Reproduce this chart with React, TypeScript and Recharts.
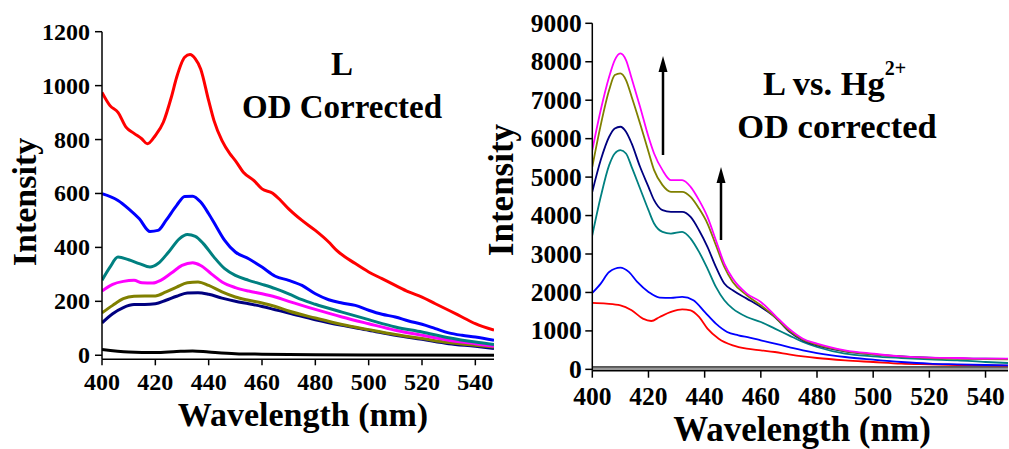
import React from 'react';
import { LineChart, Line, XAxis, YAxis } from 'recharts';

// ---------- Left panel: "L  OD Corrected" ----------
const leftXTicks = [400, 420, 440, 460, 480, 500, 520, 540];
const leftYTicks = [0, 200, 400, 600, 800, 1000, 1200];

const leftRedX = [400, 403, 406, 409, 412, 415, 417, 420, 423, 426, 428, 431, 433, 435, 437, 440, 442, 445, 448, 450, 453, 457, 460, 464, 467, 470, 475, 480, 485, 488, 495, 500, 505, 510, 515, 520, 525, 530, 535, 540, 547];
const leftRedY = [975, 926, 901, 846, 823, 802, 784, 815, 864, 957, 1031, 1105, 1115, 1099, 1062, 944, 870, 796, 747, 722, 679, 648, 617, 601, 574, 543, 500, 463, 420, 389, 340, 309, 284, 259, 235, 216, 191, 167, 142, 117, 93];

const leftBlueX = [400, 406, 410, 414, 418, 421, 424, 428, 431, 434, 437, 440, 443, 446, 450, 455, 460, 465, 470, 475, 480, 485, 490, 495, 500, 505, 510, 515, 520, 525, 530, 535, 540, 547];
const leftBlueY = [599, 574, 543, 506, 459, 463, 500, 556, 589, 590, 568, 525, 475, 426, 383, 358, 327, 293, 278, 259, 228, 206, 194, 185, 167, 152, 142, 127, 115, 99, 83, 74, 68, 56];

const leftTealX = [400, 403, 406, 410, 414, 418, 421, 425, 429, 432, 435, 438, 442, 446, 450, 455, 460, 465, 470, 475, 480, 490, 500, 510, 520, 530, 540, 547];
const leftTealY = [278, 327, 364, 354, 340, 327, 340, 383, 432, 448, 441, 414, 364, 321, 296, 278, 263, 247, 228, 206, 189, 160, 132, 105, 86, 65, 49, 40];

const leftMagentaX = [400, 404, 408, 412, 415, 419, 422, 426, 430, 434, 437, 441, 445, 450, 455, 460, 465, 470, 480, 490, 500, 510, 520, 530, 540, 547];
const leftMagentaY = [238, 263, 274, 278, 269, 268, 278, 305, 333, 343, 333, 302, 272, 251, 238, 228, 216, 200, 170, 142, 117, 93, 74, 56, 43, 33];

const leftOliveX = [400, 404, 408, 412, 416, 420, 424, 428, 432, 436, 440, 445, 450, 455, 460, 465, 470, 480, 490, 500, 510, 520, 530, 540, 547];
const leftOliveY = [157, 185, 210, 219, 220, 220, 235, 253, 269, 272, 259, 235, 216, 204, 194, 181, 164, 138, 114, 95, 77, 62, 47, 37, 31];

const leftNavyX = [400, 404, 408, 412, 416, 420, 424, 428, 432, 436, 440, 445, 450, 455, 460, 465, 470, 480, 490, 500, 510, 520, 530, 540, 547];
const leftNavyY = [120, 154, 177, 188, 188, 191, 204, 219, 231, 232, 226, 212, 200, 191, 181, 169, 157, 132, 111, 93, 74, 59, 43, 33, 25];

const leftBlackX = [400, 410, 420, 428, 434, 440, 450, 460, 480, 500, 547];
const leftBlackY = [21, 12, 10, 14, 16, 12, 6, 4, 2, 1, 0];

// ---------- Right panel: "L vs. Hg2+  OD corrected" ----------
const rightXTicks = [400, 420, 440, 460, 480, 500, 520, 540];
const rightYTicks = [0, 1000, 2000, 3000, 4000, 5000, 6000, 7000, 8000, 9000];

const rightX = [400, 403, 406, 408, 410, 412, 414, 417, 420, 422, 425, 428, 432, 435, 438, 441, 444, 447, 450, 455, 460, 465, 470, 475, 480, 490, 500, 510, 520, 530, 540, 548];
const rightMagentaY = [5702, 6744, 7611, 8045, 8219, 8045, 7568, 6830, 6049, 5615, 5181, 4921, 4921, 4747, 4400, 3966, 3359, 2751, 2361, 1970, 1753, 1406, 1059, 798, 668, 495, 408, 338, 304, 295, 278, 278];
const rightOliveY = [5268, 6353, 7264, 7655, 7698, 7524, 7091, 6396, 5659, 5181, 4791, 4617, 4617, 4487, 4183, 3793, 3229, 2664, 2274, 1927, 1666, 1363, 1015, 772, 642, 477, 391, 330, 295, 278, 269, 260];
const rightNavyY = [4617, 5442, 6049, 6266, 6310, 6179, 5876, 5268, 4747, 4400, 4140, 4097, 4097, 3966, 3619, 3185, 2664, 2231, 2057, 1840, 1623, 1363, 989, 755, 625, 469, 391, 338, 304, 286, 278, 269];
const rightTealY = [3489, 4487, 5311, 5615, 5702, 5615, 5268, 4704, 4140, 3793, 3576, 3532, 3576, 3402, 3055, 2621, 2144, 1797, 1580, 1363, 1232, 1059, 885, 712, 581, 408, 338, 295, 260, 234, 191, 165];

const rightBlueX = [400, 403, 406, 410, 413, 416, 420, 424, 428, 432, 436, 440, 444, 448, 452, 456, 460, 465, 470, 475, 480, 490, 500, 510, 520, 530, 540, 548];
const rightBlueY = [1988, 2231, 2534, 2647, 2534, 2274, 2014, 1866, 1857, 1883, 1797, 1493, 1189, 972, 885, 824, 755, 668, 581, 495, 425, 321, 252, 191, 148, 130, 113, 104];

const rightRedX = [400, 405, 410, 414, 418, 421, 424, 428, 432, 435, 438, 441, 445, 450, 455, 460, 465, 470, 475, 480, 490, 500, 510, 520, 530, 540, 548];
const rightRedY = [1727, 1710, 1666, 1536, 1319, 1258, 1363, 1493, 1562, 1536, 1363, 1059, 798, 625, 538, 495, 451, 391, 338, 295, 234, 191, 148, 130, 113, 104, 95];

const rightBaseX = [400, 548];
const rightGrayY = [25, 25];
const rightBlackY = [65, 65];

const zip = (xs: number[], ys: number[]) => xs.map((x, i) => ({ x, y: ys[i] }));

const FONT = "'Liberation Serif', 'Times New Roman', serif";

const leftSeries = [
  { name: 'black', color: '#000000', data: zip(leftBlackX, leftBlackY) },
  { name: 'navy', color: '#000080', data: zip(leftNavyX, leftNavyY) },
  { name: 'olive', color: '#808000', data: zip(leftOliveX, leftOliveY) },
  { name: 'magenta', color: '#ff00ff', data: zip(leftMagentaX, leftMagentaY) },
  { name: 'teal', color: '#008080', data: zip(leftTealX, leftTealY) },
  { name: 'blue', color: '#0000ff', data: zip(leftBlueX, leftBlueY) },
  { name: 'red', color: '#ff0000', data: zip(leftRedX, leftRedY) },
];

const rightSeries = [
  { name: 'gray', color: '#999999', width: 3, data: zip(rightBaseX, rightGrayY) },
  { name: 'base', color: '#000000', width: 1, data: zip(rightBaseX, rightBlackY) },
  { name: 'red', color: '#ff0000', width: 1.8, data: zip(rightRedX, rightRedY) },
  { name: 'blue', color: '#0000ff', width: 1.8, data: zip(rightBlueX, rightBlueY) },
  { name: 'teal', color: '#008080', width: 1.8, data: zip(rightX, rightTealY) },
  { name: 'navy', color: '#000080', width: 1.8, data: zip(rightX, rightNavyY) },
  { name: 'olive', color: '#808000', width: 1.8, data: zip(rightX, rightOliveY) },
  { name: 'magenta', color: '#ff00ff', width: 1.8, data: zip(rightX, rightMagentaY) },
];

const makeTick = (size: number, axis: 'x' | 'y', gap: number) => (props: any) => {
  const { x, y, payload } = props;
  if (axis === 'x') {
    return (
      <text x={x} y={y + gap} textAnchor="middle" dominantBaseline="hanging"
        fontFamily={FONT} fontWeight="bold" fontSize={size} fill="#000">
        {payload.value}
      </text>
    );
  }
  return (
    <text x={x - gap} y={y} textAnchor="end" dominantBaseline="central"
      fontFamily={FONT} fontWeight="bold" fontSize={size} fill="#000">
      {payload.value}
    </text>
  );
};

const leftXTick = makeTick(24, 'x', 2);
const leftYTick = makeTick(24, 'y', 2);
const rightXTick = makeTick(25.5, 'x', 2);
const rightYTick = makeTick(25.5, 'y', 1);

export default function App() {
  const axisLine = { stroke: '#000', strokeWidth: 1.5 };
  const textStyle: React.CSSProperties = { fontFamily: FONT, fontWeight: 'bold', fill: '#000' };

  return (
    <div style={{ position: 'fixed', left: 0, top: 0, width: 1009, height: 449, background: '#fff', overflow: 'hidden' }}>
      <div style={{ position: 'absolute', left: 0, top: 0 }}>
        <LineChart width={510} height={449} margin={{ top: 31.7, right: 16, bottom: 0, left: 0 }}>
          <XAxis
            type="number"
            dataKey="x"
            domain={[400, 547]}
            ticks={leftXTicks}
            allowDataOverflow
            height={89.7}
            axisLine={axisLine}
            tickLine={axisLine}
            tickSize={6}
            tickMargin={6}
            tick={leftXTick}
          />
          <YAxis
            type="number"
            dataKey="y"
            domain={[-15, 1200]}
            ticks={leftYTicks}
            allowDataOverflow
            width={102}
            axisLine={axisLine}
            tickLine={axisLine}
            tickSize={7}
            tickMargin={3}
            tick={leftYTick}
          />
          {leftSeries.map((s) => (
            <Line
              key={s.name}
              data={s.data}
              dataKey="y"
              type="monotone"
              stroke={s.color}
              strokeWidth={3}
              dot={false}
              isAnimationActive={false}
            />
          ))}
        </LineChart>
      </div>
      <div style={{ position: 'absolute', left: 500, top: 0 }}>
        <LineChart width={509} height={449} margin={{ top: 23.3, right: 1, bottom: 0, left: 0 }}>
          <XAxis
            type="number"
            dataKey="x"
            domain={[400, 548]}
            ticks={rightXTicks}
            allowDataOverflow
            height={78.3}
            axisLine={axisLine}
            tickLine={axisLine}
            tickSize={7}
            tickMargin={7}
            tick={rightXTick}
          />
          <YAxis
            type="number"
            dataKey="y"
            domain={[-35, 9000]}
            ticks={rightYTicks}
            allowDataOverflow
            width={92.3}
            axisLine={axisLine}
            tickLine={axisLine}
            tickSize={7}
            tickMargin={2.5}
            tick={rightYTick}
          />
          {rightSeries.map((s) => (
            <Line
              key={s.name}
              data={s.data}
              dataKey="y"
              type="monotone"
              stroke={s.color}
              strokeWidth={s.width}
              dot={false}
              isAnimationActive={false}
            />
          ))}
        </LineChart>
      </div>
      <svg
        width={1009}
        height={449}
        style={{ position: 'absolute', left: 0, top: 0, pointerEvents: 'none' }}
      >
        {/* left panel texts */}
        <text x={36} y={202} transform="rotate(-90 36 202)" textAnchor="middle" fontSize={34} style={textStyle}>Intensity</text>
        <text x={303} y={426} textAnchor="middle" fontSize={34} style={textStyle}>Wavelength (nm)</text>
        <text x={342} y={75} textAnchor="middle" fontSize={33} style={textStyle}>L</text>
        <text x={342} y={118} textAnchor="middle" fontSize={33} style={textStyle}>OD Corrected</text>

        {/* right panel texts */}
        <text x={513} y={190} transform="rotate(-90 513 190)" textAnchor="middle" fontSize={35} style={textStyle}>Intensity</text>
        <text x={802} y={441} textAnchor="middle" fontSize={35} style={textStyle}>Wavelength (nm)</text>
        <text x={763} y={95} textAnchor="start" fontSize={34.5} style={textStyle}>
          L vs. Hg
          <tspan fontSize={20} dy={-20}>2+</tspan>
        </text>
        <text x={837} y={138} textAnchor="middle" fontSize={34.5} style={textStyle}>OD corrected</text>

        {/* arrows */}
        <line x1={663} y1={155} x2={663} y2={70} stroke="#000" strokeWidth={2.5} />
        <polygon points="663,56 658.5,72 667.5,72" fill="#000" />
        <line x1={721} y1={240} x2={721} y2={181} stroke="#000" strokeWidth={2.5} />
        <polygon points="721,167 716.5,183 725.5,183" fill="#000" />
      </svg>
    </div>
  );
}
